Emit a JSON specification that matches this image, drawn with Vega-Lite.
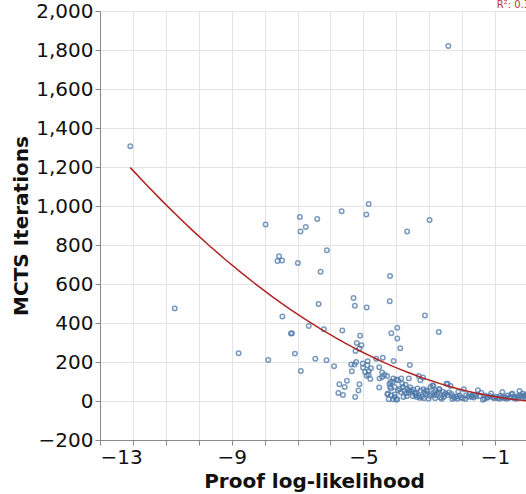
{
  "$schema": "https://vega.github.io/schema/vega-lite/v6.json",
  "width": 428,
  "height": 429,
  "padding": {"left": 11, "top": 0, "right": 5, "bottom": 5},
  "data": {
    "values": [
      {"ll": -12.08, "iters": 1307}, {"ll": -10.73, "iters": 475}, {"ll": -8.79, "iters": 245},
      {"ll": -7.97, "iters": 905}, {"ll": -7.89, "iters": 210}, {"ll": -7.61, "iters": 718},
      {"ll": -7.56, "iters": 742}, {"ll": -7.47, "iters": 721}, {"ll": -7.46, "iters": 433},
      {"ll": -7.20, "iters": 346}, {"ll": -7.17, "iters": 348}, {"ll": -7.08, "iters": 243},
      {"ll": -6.99, "iters": 708}, {"ll": -6.93, "iters": 944}, {"ll": -6.91, "iters": 869},
      {"ll": -6.90, "iters": 154}, {"ll": -6.75, "iters": 892}, {"ll": -6.66, "iters": 385},
      {"ll": -6.46, "iters": 217}, {"ll": -6.40, "iters": 933}, {"ll": -6.36, "iters": 497},
      {"ll": -6.30, "iters": 663}, {"ll": -6.20, "iters": 368}, {"ll": -6.12, "iters": 209},
      {"ll": -6.11, "iters": 773}, {"ll": -5.89, "iters": 178}, {"ll": -5.66, "iters": 973},
      {"ll": -5.64, "iters": 361}, {"ll": -5.30, "iters": 528}, {"ll": -5.26, "iters": 489},
      {"ll": -4.90, "iters": 480}, {"ll": -4.84, "iters": 1010}, {"ll": -4.91, "iters": 956},
      {"ll": -4.20, "iters": 511}, {"ll": -4.19, "iters": 641}, {"ll": -3.67, "iters": 869},
      {"ll": -2.99, "iters": 928}, {"ll": -3.13, "iters": 439}, {"ll": -2.71, "iters": 354},
      {"ll": -2.42, "iters": 1821}, {"ll": -4.15, "iters": 347}, {"ll": -3.97, "iters": 376},
      {"ll": -3.97, "iters": 321}, {"ll": -5.10, "iters": 335}, {"ll": -5.20, "iters": 297},
      {"ll": -5.06, "iters": 286}, {"ll": -5.12, "iters": 269}, {"ll": -5.24, "iters": 256},
      {"ll": -3.88, "iters": 271},
      {"ll": -5.73, "iters": 86}, {"ll": -5.57, "iters": 72}, {"ll": -5.50, "iters": 104},
      {"ll": -5.76, "iters": 41}, {"ll": -5.62, "iters": 31}, {"ll": -5.25, "iters": 21},
      {"ll": -5.37, "iters": 187}, {"ll": -5.27, "iters": 187}, {"ll": -5.22, "iters": 200},
      {"ll": -5.35, "iters": 152}, {"ll": -5.12, "iters": 86}, {"ll": -5.15, "iters": 54},
      {"ll": -5.01, "iters": 171}, {"ll": -5.02, "iters": 192}, {"ll": -4.88, "iters": 183},
      {"ll": -4.87, "iters": 204}, {"ll": -4.77, "iters": 168}, {"ll": -4.95, "iters": 149},
      {"ll": -4.84, "iters": 154}, {"ll": -4.79, "iters": 113}, {"ll": -4.90, "iters": 130},
      {"ll": -4.84, "iters": 135}, {"ll": -4.61, "iters": 217}, {"ll": -4.41, "iters": 222},
      {"ll": -4.08, "iters": 205}, {"ll": -4.52, "iters": 173}, {"ll": -4.43, "iters": 146},
      {"ll": -4.51, "iters": 116}, {"ll": -4.28, "iters": 128}, {"ll": -4.36, "iters": 135},
      {"ll": -4.43, "iters": 123}, {"ll": -3.59, "iters": 185}, {"ll": -3.62, "iters": 116},
      {"ll": -3.85, "iters": 116}, {"ll": -4.09, "iters": 116}, {"ll": -4.17, "iters": 99},
      {"ll": -3.95, "iters": 106}, {"ll": -4.19, "iters": 72}, {"ll": -4.00, "iters": 110},
      {"ll": -4.11, "iters": 97}, {"ll": -4.21, "iters": 89}, {"ll": -4.27, "iters": 34},
      {"ll": -4.05, "iters": 34}, {"ll": -4.23, "iters": 9}, {"ll": -3.97, "iters": 9},
      {"ll": -4.10, "iters": 9}, {"ll": -4.52, "iters": 69}, {"ll": -3.32, "iters": 128},
      {"ll": -3.27, "iters": 106}, {"ll": -3.19, "iters": 120}, {"ll": -4.16, "iters": 64},
      {"ll": -4.05, "iters": 72}, {"ll": -3.95, "iters": 55}, {"ll": -4.26, "iters": 38},
      {"ll": -4.16, "iters": 29}, {"ll": -4.05, "iters": 21}, {"ll": -4.00, "iters": 7},
      {"ll": -3.72, "iters": 84}, {"ll": -3.80, "iters": 72}, {"ll": -3.60, "iters": 55},
      {"ll": -3.09, "iters": 55}, {"ll": -3.40, "iters": 38}, {"ll": -2.87, "iters": 77},
      {"ll": -2.69, "iters": 60}, {"ll": -2.44, "iters": 89},
      {"ll": -3.90, "iters": 62}, {"ll": -3.86, "iters": 45}, {"ll": -3.82, "iters": 88},
      {"ll": -3.78, "iters": 20}, {"ll": -3.76, "iters": 52}, {"ll": -3.70, "iters": 40},
      {"ll": -3.68, "iters": 25}, {"ll": -3.66, "iters": 60}, {"ll": -3.62, "iters": 44},
      {"ll": -3.58, "iters": 70}, {"ll": -3.54, "iters": 50}, {"ll": -3.50, "iters": 24},
      {"ll": -3.48, "iters": 58}, {"ll": -3.44, "iters": 42}, {"ll": -3.42, "iters": 30},
      {"ll": -3.38, "iters": 20}, {"ll": -3.36, "iters": 64}, {"ll": -3.32, "iters": 26},
      {"ll": -3.28, "iters": 16}, {"ll": -3.26, "iters": 52}, {"ll": -3.22, "iters": 22},
      {"ll": -3.18, "iters": 60}, {"ll": -3.16, "iters": 14}, {"ll": -3.14, "iters": 44},
      {"ll": -3.10, "iters": 36}, {"ll": -3.06, "iters": 50}, {"ll": -3.02, "iters": 12},
      {"ll": -2.98, "iters": 26}, {"ll": -2.96, "iters": 72}, {"ll": -2.92, "iters": 36},
      {"ll": -2.90, "iters": 80}, {"ll": -2.86, "iters": 44}, {"ll": -2.84, "iters": 30},
      {"ll": -2.82, "iters": 14}, {"ll": -2.80, "iters": 52}, {"ll": -2.76, "iters": 34},
      {"ll": -2.72, "iters": 46}, {"ll": -2.70, "iters": 60}, {"ll": -2.66, "iters": 18},
      {"ll": -2.62, "iters": 12}, {"ll": -2.58, "iters": 48}, {"ll": -2.56, "iters": 20},
      {"ll": -2.54, "iters": 34}, {"ll": -2.50, "iters": 40}, {"ll": -2.48, "iters": 89},
      {"ll": -2.44, "iters": 30}, {"ll": -2.40, "iters": 44}, {"ll": -2.35, "iters": 77},
      {"ll": -2.33, "iters": 36}, {"ll": -2.30, "iters": 10}, {"ll": -2.28, "iters": 24},
      {"ll": -2.24, "iters": 16}, {"ll": -2.18, "iters": 22}, {"ll": -2.14, "iters": 12},
      {"ll": -2.12, "iters": 46}, {"ll": -2.08, "iters": 28}, {"ll": -2.04, "iters": 18},
      {"ll": -1.98, "iters": 14}, {"ll": -1.95, "iters": 60}, {"ll": -1.90, "iters": 10},
      {"ll": -1.88, "iters": 30}, {"ll": -1.82, "iters": 22}, {"ll": -1.77, "iters": 36},
      {"ll": -1.72, "iters": 20}, {"ll": -1.70, "iters": 28}, {"ll": -1.65, "iters": 18},
      {"ll": -1.62, "iters": 32}, {"ll": -1.57, "iters": 24}, {"ll": -1.52, "iters": 55},
      {"ll": -1.47, "iters": 26}, {"ll": -1.42, "iters": 43}, {"ll": -1.37, "iters": 6},
      {"ll": -1.32, "iters": 12}, {"ll": -1.30, "iters": 28}, {"ll": -1.25, "iters": 16},
      {"ll": -1.22, "iters": 20}, {"ll": -1.15, "iters": 24}, {"ll": -1.12, "iters": 38},
      {"ll": -1.07, "iters": 18}, {"ll": -1.02, "iters": 14},
      {"ll": -0.98, "iters": 22}, {"ll": -0.92, "iters": 16}, {"ll": -0.87, "iters": 12},
      {"ll": -0.85, "iters": 26}, {"ll": -0.80, "iters": 18}, {"ll": -0.78, "iters": 46},
      {"ll": -0.72, "iters": 14}, {"ll": -0.70, "iters": 20}, {"ll": -0.65, "iters": 12},
      {"ll": -0.62, "iters": 28}, {"ll": -0.57, "iters": 16}, {"ll": -0.52, "iters": 22},
      {"ll": -0.50, "iters": 34}, {"ll": -0.48, "iters": 38}, {"ll": -0.42, "iters": 14},
      {"ll": -0.40, "iters": 20}, {"ll": -0.35, "iters": 12}, {"ll": -0.32, "iters": 24},
      {"ll": -0.28, "iters": 18}, {"ll": -0.26, "iters": 51}, {"ll": -0.24, "iters": 30},
      {"ll": -0.18, "iters": 22}, {"ll": -0.16, "iters": 38}, {"ll": -0.12, "iters": 28},
      {"ll": -0.08, "iters": 18}, {"ll": -0.06, "iters": 32}, {"ll": -0.02, "iters": 20}
    ]
  },
  "layer": [
    {
      "mark": {"type": "point", "filled": false, "size": 20, "strokeWidth": 1.5, "color": "#4c78a8", "opacity": 0.75},
      "encoding": {
        "x": {
          "field": "ll",
          "type": "quantitative",
          "title": "Proof log-likelihood",
          "scale": {"domain": [-13, 0], "nice": false},
          "axis": {
            "values": [-13, -12, -11, -10, -9, -8, -7, -6, -5, -4, -3, -2, -1, 0],
            "tickCount": 20,
            "format": "d",
            "labelExpr": "(datum.value + 13) % 4 == 0 ? datum.label : ''",
            "labelFlush": true,
            "labelOverlap": false
          }
        },
        "y": {
          "field": "iters",
          "type": "quantitative",
          "title": "MCTS Iterations",
          "scale": {"domain": [-200, 2000], "nice": false},
          "axis": {
            "values": [-200, 0, 200, 400, 600, 800, 1000, 1200, 1400, 1600, 1800, 2000],
            "tickCount": 20,
            "format": ",d",
            "labelOverlap": false
          }
        }
      }
    },
    {
      "transform": [{"regression": "iters", "on": "ll", "method": "poly", "order": 2}],
      "mark": {"type": "line", "color": "#b22222", "strokeWidth": 1.5},
      "encoding": {
        "x": {"field": "ll", "type": "quantitative"},
        "y": {"field": "iters", "type": "quantitative"}
      }
    },
    {
      "data": {"values": [{"label": "R²: 0.39"}]},
      "mark": {"type": "text", "color": "#c0392b", "fontSize": 10, "align": "left", "baseline": "bottom", "dy": -1},
      "encoding": {
        "x": {"datum": -0.95},
        "y": {"datum": 2000},
        "text": {"field": "label"}
      }
    }
  ],
  "config": {
    "font": "DejaVu Sans",
    "axis": {"labelFontSize": 20, "titleFontSize": 20, "titleFontWeight": "bold", "gridColor": "#e4e4e4", "labelColor": "#111", "titleColor": "#111"},
    "axisY": {"labelOverlap": false, "tickCount": 20},
    "axisX": {"tickCount": 20}
  }
}
